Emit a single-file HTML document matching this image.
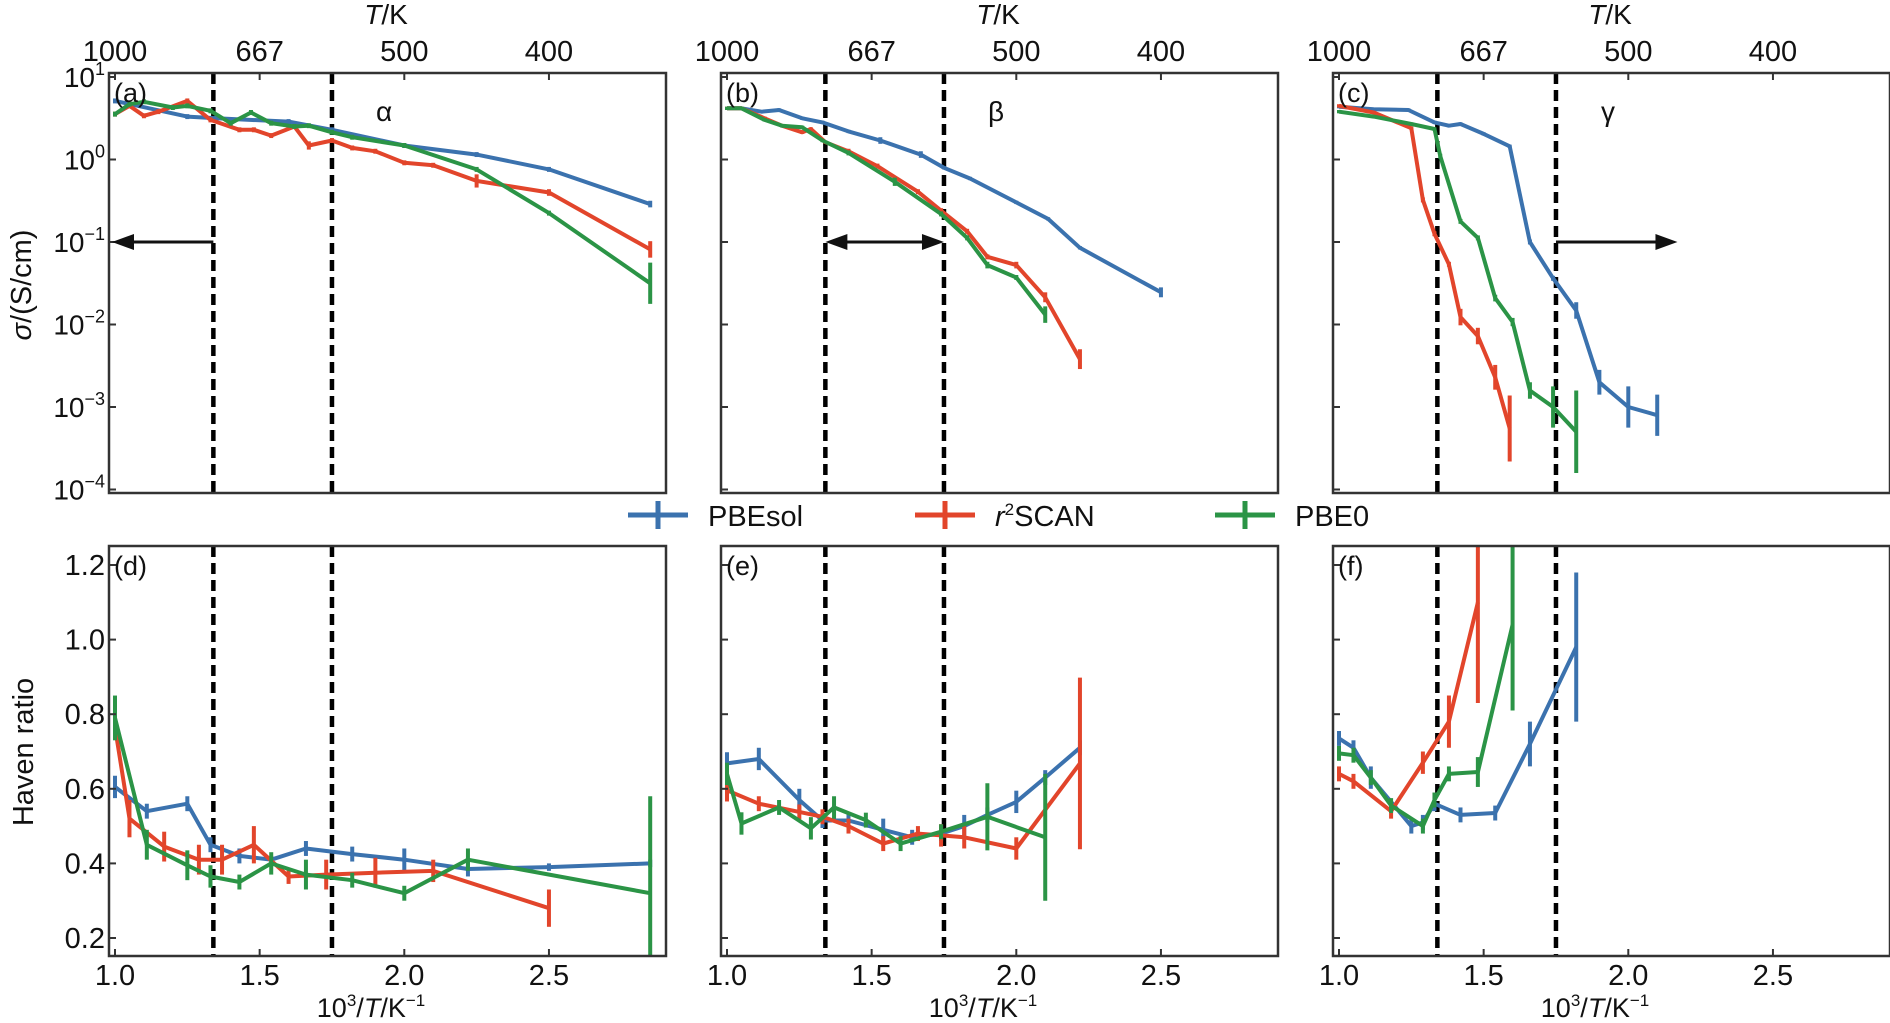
<!DOCTYPE html>
<html><head><meta charset="utf-8"><style>
html,body{margin:0;padding:0;background:#fff;}
svg{display:block;font-family:"Liberation Sans",sans-serif;}
</style></head><body>
<svg id="fig" width="1890" height="1023" viewBox="0 0 1890 1023" xmlns="http://www.w3.org/2000/svg"></svg>
<script>
// ---------- data ----------
const topTickLabels = ["1000","667","500","400"];
const topTickX = [1.0,1.5,2.0,2.5];
const bottomTickLabels = ["1.0","1.5","2.0","2.5"];
const logTicks = [1,0,-1,-2,-3,-4];
const havenTicks = [0.2,0.4,0.6,0.8,1.0,1.2];
const havenTickLabels = ["0.2","0.4","0.6","0.8","1.0","1.2"];
const dashX = [1.34,1.75];

// panel a (log10 sigma)
const a_blue_x = [1.0,1.25,1.35,1.6,1.75,2.0,2.25,2.5,2.85];
const a_blue_y = [0.71,0.52,0.50,0.46,0.36,0.17,0.06,-0.12,-0.54];
const a_blue_e = [0.03,0.03,0.03,0.03,0.03,0.03,0.03,0.03,0.04];
const a_red_x = [1.0,1.05,1.1,1.15,1.25,1.33,1.43,1.48,1.54,1.62,1.67,1.75,1.82,1.9,2.0,2.1,2.25,2.5,2.85];
const a_red_y = [0.55,0.65,0.53,0.58,0.71,0.48,0.36,0.36,0.29,0.40,0.17,0.23,0.14,0.10,-0.04,-0.07,-0.26,-0.40,-1.09];
const a_red_e = [0.03,0.03,0.03,0.03,0.03,0.03,0.03,0.03,0.03,0.03,0.05,0.03,0.03,0.03,0.03,0.03,0.08,0.04,0.1];
const a_green_x = [1.0,1.05,1.1,1.2,1.25,1.33,1.4,1.47,1.54,1.62,1.67,1.75,1.82,2.0,2.25,2.5,2.85];
const a_green_y = [0.55,0.67,0.70,0.63,0.65,0.59,0.44,0.57,0.44,0.40,0.41,0.33,0.27,0.17,-0.12,-0.65,-1.5];
const a_green_e = [0.03,0.03,0.03,0.03,0.03,0.03,0.03,0.03,0.03,0.03,0.03,0.03,0.03,0.03,0.03,0.03,0.25];

// panel b
const b_blue_x = [1.0,1.05,1.12,1.18,1.26,1.33,1.42,1.53,1.67,1.75,1.84,2.0,2.11,2.22,2.5];
const b_blue_y = [0.62,0.62,0.58,0.60,0.50,0.45,0.34,0.23,0.06,-0.10,-0.23,-0.52,-0.72,-1.07,-1.61];
const b_blue_e = [0.02,0.02,0.02,0.02,0.02,0.02,0.02,0.04,0.04,0.02,0.02,0.02,0.02,0.02,0.06];
const b_red_x = [1.0,1.05,1.13,1.19,1.26,1.29,1.34,1.42,1.52,1.66,1.74,1.83,1.9,2.0,2.1,2.22];
const b_red_y = [0.62,0.62,0.50,0.41,0.33,0.37,0.21,0.10,-0.08,-0.39,-0.62,-0.87,-1.18,-1.28,-1.67,-2.42];
const b_red_e = [0.02,0.02,0.02,0.02,0.02,0.02,0.02,0.03,0.03,0.03,0.03,0.03,0.03,0.04,0.06,0.12];
const b_green_x = [1.0,1.05,1.13,1.19,1.26,1.33,1.42,1.58,1.74,1.83,1.9,2.0,2.1];
const b_green_y = [0.62,0.62,0.48,0.41,0.39,0.23,0.08,-0.27,-0.66,-0.95,-1.28,-1.43,-1.88];
const b_green_e = [0.02,0.02,0.02,0.02,0.02,0.02,0.03,0.05,0.03,0.03,0.04,0.03,0.1];

// panel c
const c_blue_x = [1.0,1.12,1.24,1.33,1.38,1.42,1.5,1.59,1.66,1.74,1.82,1.9,2.0,2.1];
const c_blue_y = [0.64,0.61,0.60,0.45,0.41,0.43,0.31,0.16,-1.0,-1.44,-1.83,-2.7,-3.0,-3.1];
const c_blue_e = [0.02,0.02,0.02,0.02,0.02,0.02,0.02,0.02,0.03,0.03,0.1,0.15,0.25,0.25];
const c_red_x = [1.0,1.12,1.25,1.29,1.33,1.38,1.42,1.48,1.54,1.59];
const c_red_y = [0.65,0.57,0.38,-0.49,-0.9,-1.27,-1.91,-2.14,-2.64,-3.26];
const c_red_e = [0.02,0.02,0.02,0.03,0.03,0.03,0.1,0.1,0.15,0.4];
const c_green_x = [1.0,1.12,1.25,1.33,1.35,1.42,1.48,1.54,1.6,1.66,1.74,1.82];
const c_green_y = [0.58,0.52,0.43,0.37,0.04,-0.75,-0.95,-1.68,-1.97,-2.8,-3.0,-3.3];
const c_green_e = [0.02,0.02,0.02,0.02,0.03,0.03,0.03,0.04,0.05,0.1,0.25,0.5];

// panel d (Haven ratio)
const d_blue_x = [1.0,1.11,1.25,1.33,1.43,1.54,1.66,1.82,2.0,2.22,2.5,2.85];
const d_blue_y = [0.605,0.54,0.56,0.45,0.42,0.41,0.44,0.425,0.41,0.385,0.39,0.40];
const d_blue_e = [0.03,0.02,0.02,0.02,0.02,0.01,0.02,0.02,0.03,0.02,0.01,0.01];
const d_red_x = [1.0,1.05,1.17,1.29,1.37,1.48,1.6,1.73,1.9,2.1,2.5];
const d_red_y = [0.765,0.52,0.445,0.41,0.41,0.45,0.365,0.37,0.375,0.38,0.28];
const d_red_e = [0.03,0.05,0.04,0.04,0.04,0.05,0.02,0.04,0.04,0.03,0.05];
const d_green_x = [1.0,1.11,1.25,1.33,1.43,1.54,1.66,1.82,2.0,2.22,2.85];
const d_green_y = [0.79,0.45,0.395,0.365,0.35,0.40,0.37,0.355,0.32,0.41,0.32];
const d_green_e = [0.06,0.04,0.04,0.03,0.02,0.03,0.04,0.02,0.02,0.03,0.26];

// panel e
const e_blue_x = [1.0,1.11,1.25,1.33,1.42,1.54,1.64,1.74,1.82,1.9,2.0,2.1,2.22];
const e_blue_y = [0.668,0.68,0.57,0.515,0.515,0.49,0.47,0.48,0.50,0.53,0.565,0.63,0.71];
const e_blue_e = [0.03,0.03,0.03,0.02,0.02,0.03,0.02,0.02,0.03,0.02,0.03,0.02,0.02];
const e_red_x = [1.0,1.11,1.25,1.33,1.42,1.54,1.66,1.74,1.82,2.0,2.22];
const e_red_y = [0.596,0.56,0.538,0.525,0.50,0.453,0.48,0.475,0.47,0.44,0.668];
const e_red_e = [0.03,0.02,0.02,0.02,0.02,0.02,0.02,0.03,0.03,0.03,0.23];
const e_green_x = [1.0,1.05,1.18,1.29,1.37,1.48,1.6,1.74,1.9,2.1];
const e_green_y = [0.64,0.507,0.55,0.494,0.55,0.516,0.453,0.485,0.525,0.47];
const e_green_e = [0.03,0.03,0.02,0.03,0.03,0.02,0.02,0.02,0.09,0.17];

// panel f
const f_blue_x = [1.0,1.05,1.11,1.25,1.29,1.33,1.42,1.54,1.66,1.82];
const f_blue_y = [0.735,0.71,0.63,0.50,0.51,0.56,0.53,0.535,0.72,0.98];
const f_blue_e = [0.02,0.02,0.03,0.02,0.02,0.02,0.02,0.02,0.06,0.2];
const f_red_x = [1.0,1.05,1.18,1.29,1.38,1.48];
const f_red_y = [0.64,0.62,0.54,0.67,0.78,1.10];
const f_red_e = [0.02,0.02,0.02,0.03,0.07,0.27];
const f_green_x = [1.0,1.05,1.11,1.18,1.29,1.33,1.38,1.48,1.6];
const f_green_y = [0.695,0.69,0.63,0.555,0.50,0.57,0.64,0.645,1.04];
const f_green_e = [0.02,0.02,0.02,0.02,0.02,0.02,0.02,0.04,0.23];

// ---------- layout ----------
const NS = "http://www.w3.org/2000/svg";
const svg = document.getElementById("fig");
const COL = {blue:"#3b72ae", red:"#e2452b", green:"#2b9446"};
const PX0 = [109, 721, 1333], PW = 557;
const TOP = {y0:73, y1:493}, BOT = {y0:546, y1:956};
function mk(tag, attrs, parent){const e=document.createElementNS(NS,tag);for(const k in attrs)e.setAttribute(k,attrs[k]);(parent||svg).appendChild(e);return e;}
function xScale(p){return v => PX0[p] + 6 + (v-1.0)*289.3;}
function yLog(v){return 77 + (1 - v)*82.5;}
function yHav(v){return 565 + (1.2 - v)*373;}
function clampY(y,row){const r=row?BOT:TOP;return Math.max(r.y0,Math.min(r.y1,y));}

function drawSeries(g, p, row, xs, ys, es, color, name){
  const X = xScale(p), Y = row? yHav : yLog;
  const pts = xs.map((x,i)=>X(x).toFixed(1)+","+clampY(Y(ys[i]),row).toFixed(1)).join(" ");
  const pl = mk("polyline",{points:pts,fill:"none",stroke:color,"stroke-width":4,"stroke-linejoin":"round"},g);
  
  
  xs.forEach((x,i)=>{
    const eb = mk("line",{x1:X(x),x2:X(x),y1:clampY(Y(ys[i]+es[i]),row),y2:clampY(Y(ys[i]-es[i]),row),stroke:color,"stroke-width":4},g);
    
    
  });
}

function text(str, x, y, size, anchor, parent, name){
  const t = mk("text",{x:x,y:y,"font-size":size,"text-anchor":anchor||"middle",fill:"#111"},parent);
  t.textContent = str;
  
  
  return t;
}

const panels = [
  {p:0,row:0,label:"(a)",s:[[a_blue_x,a_blue_y,a_blue_e],[a_red_x,a_red_y,a_red_e],[a_green_x,a_green_y,a_green_e]],greek:"α"},
  {p:1,row:0,label:"(b)",s:[[b_blue_x,b_blue_y,b_blue_e],[b_red_x,b_red_y,b_red_e],[b_green_x,b_green_y,b_green_e]],greek:"β"},
  {p:2,row:0,label:"(c)",s:[[c_blue_x,c_blue_y,c_blue_e],[c_red_x,c_red_y,c_red_e],[c_green_x,c_green_y,c_green_e]],greek:"γ"},
  {p:0,row:1,label:"(d)",s:[[d_blue_x,d_blue_y,d_blue_e],[d_red_x,d_red_y,d_red_e],[d_green_x,d_green_y,d_green_e]]},
  {p:1,row:1,label:"(e)",s:[[e_blue_x,e_blue_y,e_blue_e],[e_red_x,e_red_y,e_red_e],[e_green_x,e_green_y,e_green_e]]},
  {p:2,row:1,label:"(f)",s:[[f_blue_x,f_blue_y,f_blue_e],[f_red_x,f_red_y,f_red_e],[f_green_x,f_green_y,f_green_e]]}
];
const seriesNames = ["pbesol","r2scan","pbe0"], seriesCols=[COL.blue,COL.red,COL.green];

panels.forEach(P=>{
  const r = P.row?BOT:TOP, x0 = PX0[P.p], X = xScale(P.p);
  const g = mk("g",{});
  
  
  dashX.forEach(d=>{
    const l = mk("line",{x1:X(d),x2:X(d),y1:r.y0,y2:r.y1,stroke:"#000","stroke-width":4.5,"stroke-dasharray":"11 6"},g);
    
    
  });
  P.s.forEach((s,i)=>drawSeries(g,P.p,P.row,s[0],s[1],s[2],seriesCols[i],seriesNames[i]));
  const fr = mk("rect",{x:x0,y:r.y0,width:PW,height:r.y1-r.y0,fill:"none",stroke:"#333","stroke-width":2.5},g);
  
  
  const yt = P.row? havenTicks : logTicks, Y = P.row? yHav : yLog;
  yt.forEach((v,i)=>{
    const tk = mk("line",{x1:x0,x2:x0+7,y1:Y(v),y2:Y(v),stroke:"#333","stroke-width":2},g);
    
    
    if(P.p===0){
      if(P.row){
        text(havenTickLabels[i], x0-4, Y(v)+10, 29, "end", g, 'y-tick-label');
      } else {
        const t = mk("text",{x:x0-4,y:Y(v)+10,"font-size":28,"text-anchor":"end",fill:"#111"},g);
        const expo = v<0 ? "−"+(-v) : String(v);
        t.innerHTML = '10<tspan font-size="18" dy="-12">'+expo+'</tspan>';
        
        
      }
    }
  });
  topTickX.forEach((v,i)=>{
    const yy = P.row? r.y1 : r.y0, dir = P.row? -7 : 7;
    const tk = mk("line",{x1:X(v),x2:X(v),y1:yy,y2:yy+dir,stroke:"#333","stroke-width":2},g);
    
    
    if(P.row) text(bottomTickLabels[i], X(v), 985, 29, "middle", g, 'x-tick-label');
    else text(topTickLabels[i], X(v), 61, 29, "middle", g, 'top-tick-label');
  });
  if(!P.row){
    const t = mk("text",{x:x0+277,y:24,"font-size":28,"text-anchor":"middle",fill:"#111"},g);
    t.innerHTML = '<tspan font-style="italic">T</tspan>/K';
    
    
    text(P.greek, X(1.93), 121, 28, "middle", g, 'phase-label');
  } else {
    const t = mk("text",{x:x0+262,y:1017,"font-size":27,"text-anchor":"middle",fill:"#111"},g);
    t.innerHTML = '10<tspan font-size="17" dy="-11">3</tspan><tspan dy="11">/</tspan><tspan font-style="italic">T</tspan>/K<tspan font-size="17" dy="-11">−1</tspan>';
    
    
  }
  text(P.label, x0+5, r.y0+29, 27, "start", g, 'panel-label');
});

function arrow(x1,x2,y,heads,name){
  const g = mk("g",{});
  
  
  const hx1 = heads.includes('l')? x1+20 : x1, hx2 = heads.includes('r')? x2-20 : x2;
  mk("line",{x1:hx1,x2:hx2,y1:y,y2:y,stroke:"#111","stroke-width":3},g);
  if(heads.includes('l')) mk("polygon",{points:`${x1},${y} ${x1+22},${y-8} ${x1+22},${y+8}`,fill:"#111"},g);
  if(heads.includes('r')) mk("polygon",{points:`${x2},${y} ${x2-22},${y-8} ${x2-22},${y+8}`,fill:"#111"},g);
}
arrow(PX0[0]+3, xScale(0)(dashX[0]), yLog(-1), 'l', 'alpha-range-arrow');
arrow(xScale(1)(dashX[0]), xScale(1)(dashX[1]), yLog(-1), 'lr', 'beta-range-arrow');
arrow(xScale(2)(dashX[1]), xScale(2)(2.17), yLog(-1), 'r', 'gamma-range-arrow');

const yt1 = mk("text",{x:0,y:0,"font-size":29,"text-anchor":"middle",fill:"#111",transform:"translate(31,285) rotate(-90)"});
yt1.innerHTML = '<tspan font-style="italic">σ</tspan>/(S/cm)';


const yt2 = mk("text",{x:0,y:0,"font-size":29,"text-anchor":"middle",fill:"#111",transform:"translate(33,752) rotate(-90)"});
yt2.textContent = 'Haven ratio';



const legendLabels = ["PBEsol","<tspan font-style='italic'>r</tspan><tspan font-size='17' dy='-11'>2</tspan><tspan dy='11'>SCAN</tspan>","PBE0"];
const legendX = [628, 915, 1215];
legendLabels.forEach((lab,i)=>{
  const g = mk("g",{});
  
  
  const x = legendX[i], y = 515;
  mk("line",{x1:x,x2:x+60,y1:y,y2:y,stroke:seriesCols[i],"stroke-width":5},g);
  mk("line",{x1:x+30,x2:x+30,y1:y-14,y2:y+14,stroke:seriesCols[i],"stroke-width":5},g);
  const t = mk("text",{x:x+80,y:y+11,"font-size":29,fill:"#111"},g);
  t.innerHTML = lab;
});
</script>
</body></html>
